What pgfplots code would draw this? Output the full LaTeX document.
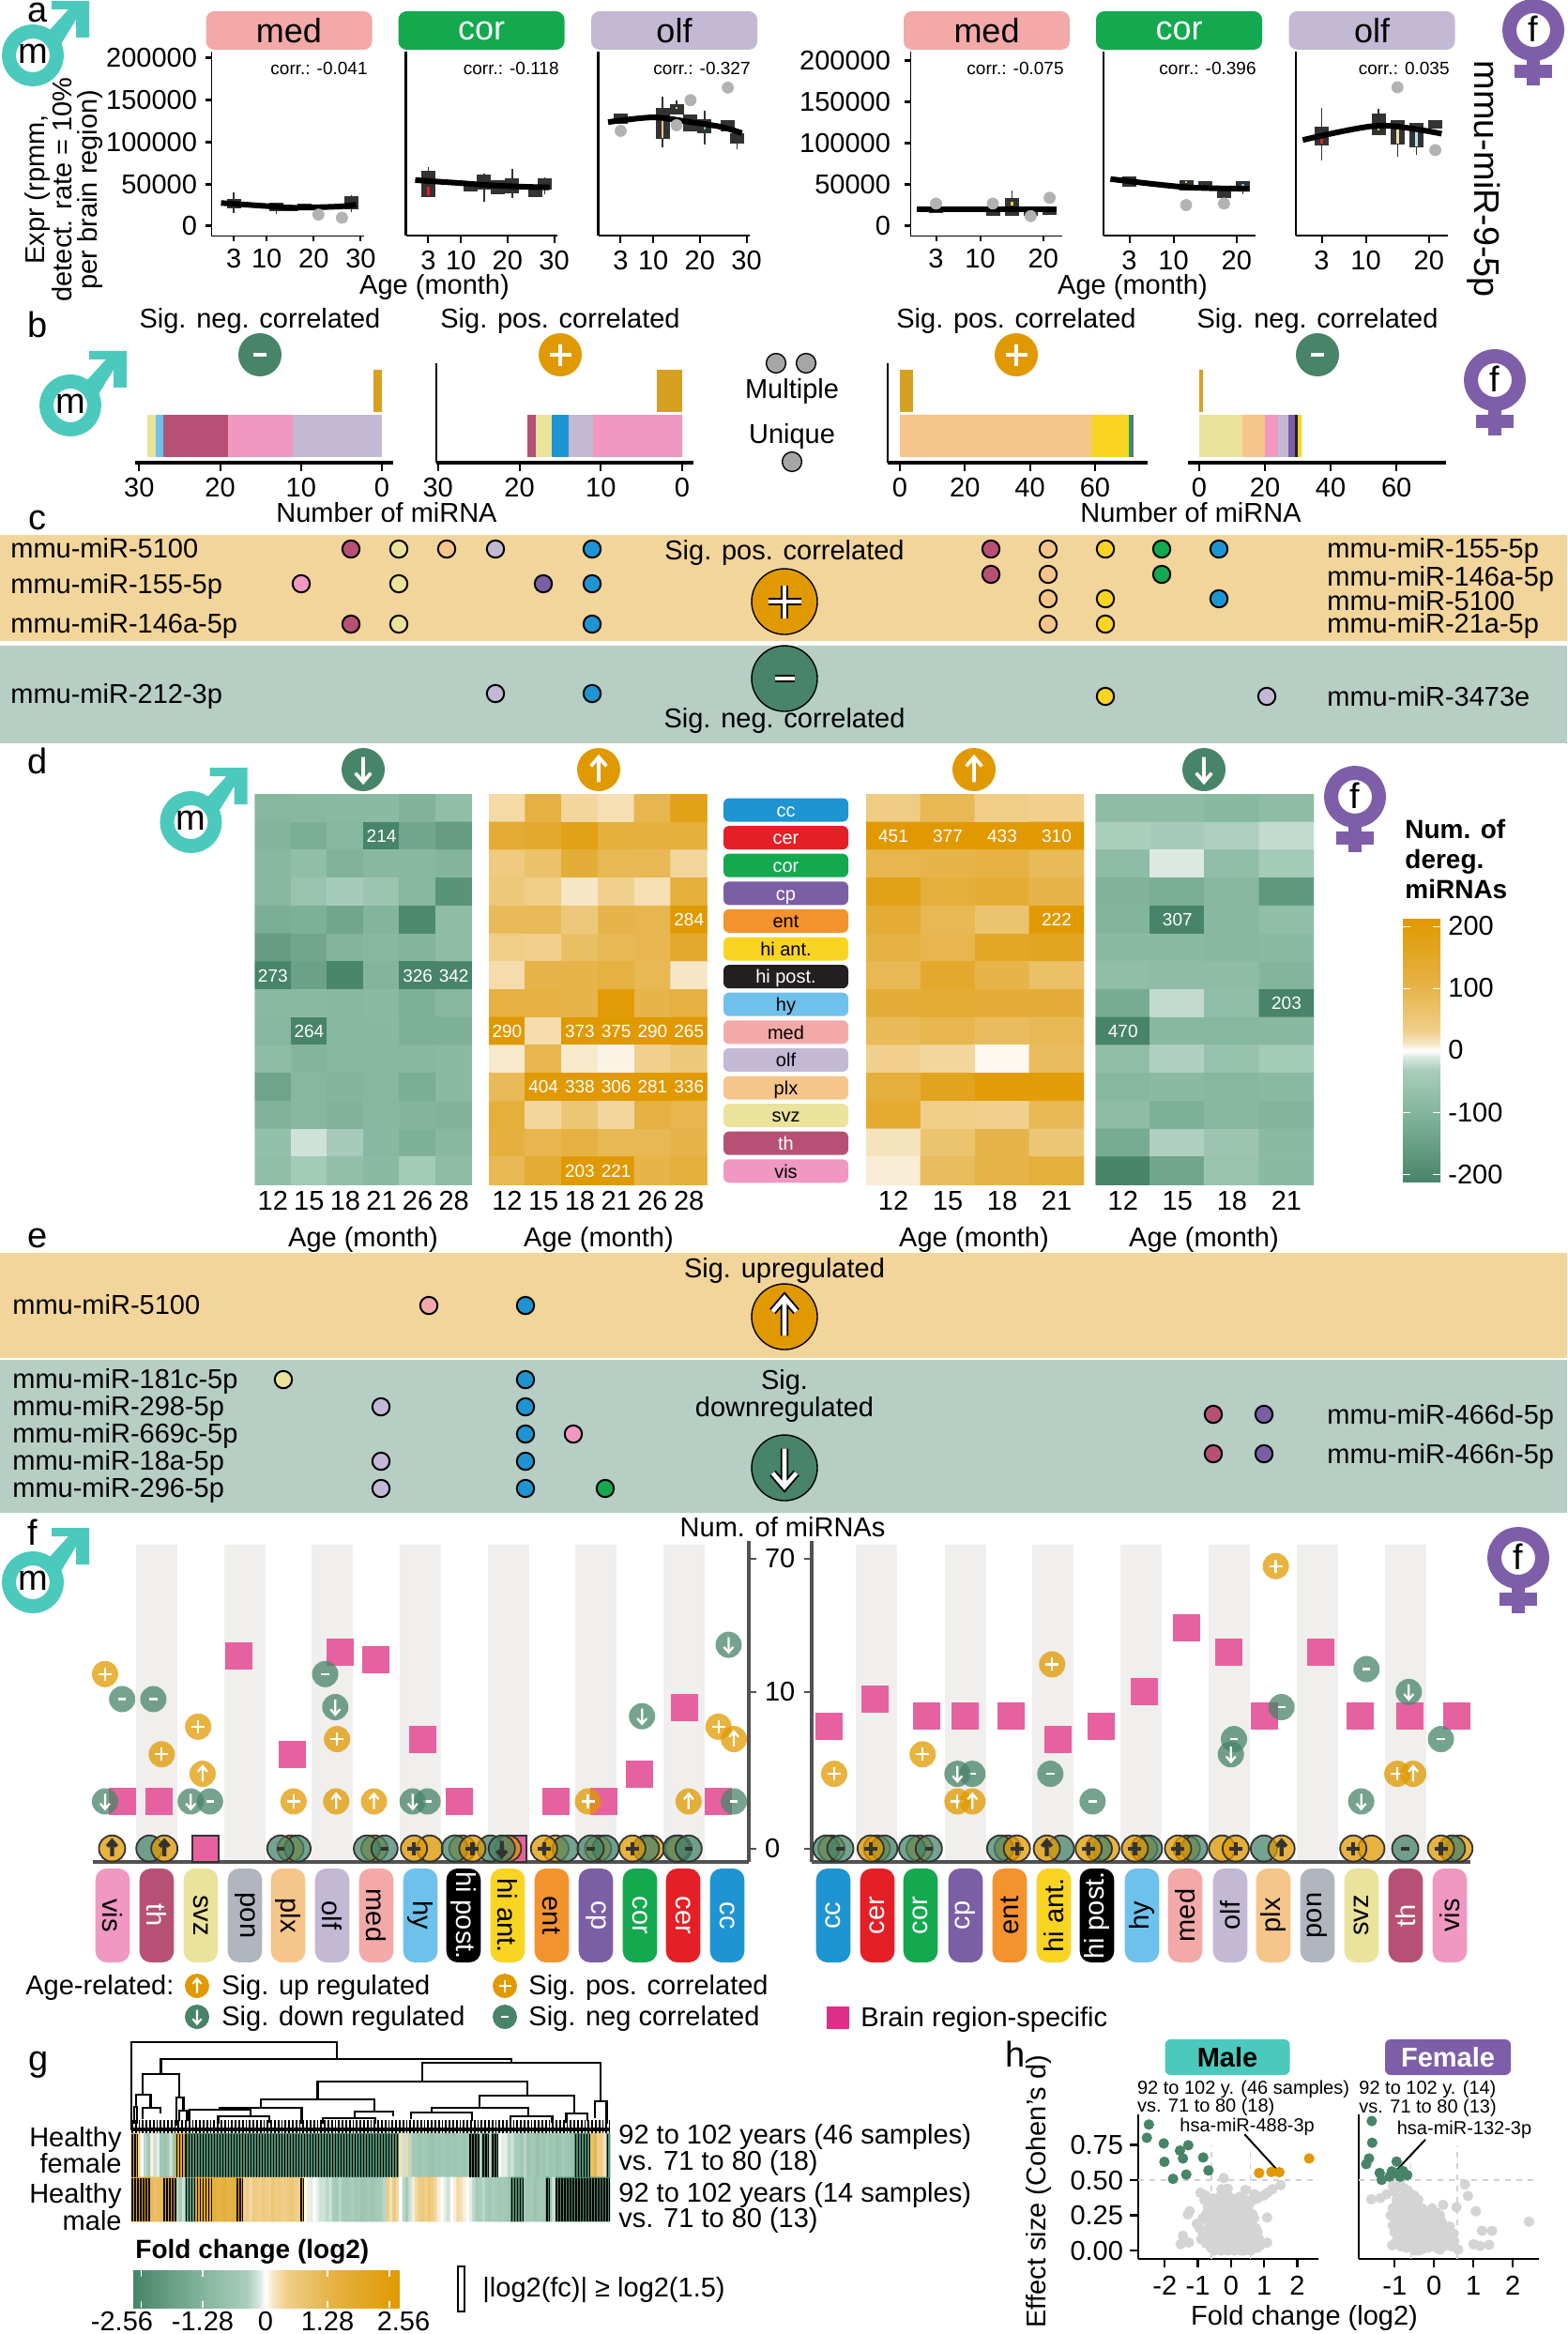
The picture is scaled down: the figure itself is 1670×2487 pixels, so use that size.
\documentclass[border=0pt]{standalone}
\usepackage{fontspec}
\setmainfont{Liberation Sans}
\usepackage{etoolbox}
\usepackage{pgfplots}
\pgfplotsset{compat=1.18}

% brain region colours
\definecolor{cc}{HTML}{1F94D2}\definecolor{cer}{HTML}{E41F26}\definecolor{cor}{HTML}{14A84F}
\definecolor{cp}{HTML}{7B5FA5}\definecolor{ent}{HTML}{F4922E}\definecolor{hia}{HTML}{FAD422}
\definecolor{hip}{HTML}{231F20}\definecolor{hy}{HTML}{6EC1EA}\definecolor{med}{HTML}{F2A9A8}
\definecolor{olf}{HTML}{C3B9D5}\definecolor{plx}{HTML}{F6C589}\definecolor{pon}{HTML}{B1B5BE}
\definecolor{svz}{HTML}{EBE29C}\definecolor{th}{HTML}{B65175}\definecolor{vis}{HTML}{F098C1}
\definecolor{mcol}{HTML}{4CC9BD}\definecolor{fcol}{HTML}{7E5EA8}
\definecolor{gold}{HTML}{E09900}\definecolor{grn}{HTML}{478469}
\definecolor{lgold}{HTML}{F2D59A}\definecolor{lgrn}{HTML}{B6CEC3}
\definecolor{pinks}{HTML}{E6619F}\definecolor{pinkl}{HTML}{DE2E87}
\definecolor{multi}{HTML}{D6A021}\definecolor{band}{HTML}{F0EFED}\definecolor{dk}{HTML}{333333}
\definecolor{c1}{HTML}{83B59D}\definecolor{c2}{HTML}{AACDBC}\definecolor{c3}{HTML}{DCE9E3}
\definecolor{c4}{HTML}{F7E9CC}\definecolor{c5}{HTML}{F1D08D}\definecolor{c6}{HTML}{E6B44A}

\def\fA{\fontsize{14.5}{17}\selectfont}
\def\fB{\fontsize{9.5}{11}\selectfont}
\def\fC{\fontsize{10}{12}\selectfont}
\def\fL{\fontsize{19}{21}\selectfont}
\def\fS{\fontsize{18}{20}\selectfont}
\def\fN{\fontsize{10}{11.5}\selectfont}

% circle marks with a glyph
\def\pathP{\pgfpathmoveto{\pgfqpoint{-.5\pgfplotmarksize}{0pt}}\pgfpathlineto{\pgfqpoint{.5\pgfplotmarksize}{0pt}}\pgfpathmoveto{\pgfqpoint{0pt}{-.5\pgfplotmarksize}}\pgfpathlineto{\pgfqpoint{0pt}{.5\pgfplotmarksize}}}
\def\pathM{\pgfpathmoveto{\pgfqpoint{-.3\pgfplotmarksize}{0pt}}\pgfpathlineto{\pgfqpoint{.3\pgfplotmarksize}{0pt}}}
\def\pathU{\pgfpathmoveto{\pgfqpoint{0pt}{-.58\pgfplotmarksize}}\pgfpathlineto{\pgfqpoint{0pt}{.58\pgfplotmarksize}}\pgfpathmoveto{\pgfqpoint{-.36\pgfplotmarksize}{.16\pgfplotmarksize}}\pgfpathlineto{\pgfqpoint{0pt}{.58\pgfplotmarksize}}\pgfpathlineto{\pgfqpoint{.36\pgfplotmarksize}{.16\pgfplotmarksize}}}
\def\pathD{\pgfpathmoveto{\pgfqpoint{0pt}{.58\pgfplotmarksize}}\pgfpathlineto{\pgfqpoint{0pt}{-.58\pgfplotmarksize}}\pgfpathmoveto{\pgfqpoint{-.36\pgfplotmarksize}{-.16\pgfplotmarksize}}\pgfpathlineto{\pgfqpoint{0pt}{-.58\pgfplotmarksize}}\pgfpathlineto{\pgfqpoint{.36\pgfplotmarksize}{-.16\pgfplotmarksize}}}
\newcommand\defmk[2]{%
 \pgfdeclareplotmark{#1w}{\pgfpathcircle{\pgfpointorigin}{\pgfplotmarksize}\pgfusepathqfill
  \begin{pgfscope}\pgfsetstrokecolor{white}\pgfsetlinewidth{0.16\pgfplotmarksize}#2\pgfusepathqstroke\end{pgfscope}}%
 \pgfdeclareplotmark{#1d}{\pgfpathcircle{\pgfpointorigin}{\pgfplotmarksize}\pgfusepathqfillstroke
  \begin{pgfscope}\pgfsetlinewidth{0.3\pgfplotmarksize}#2\pgfusepathqstroke\end{pgfscope}}%
 \pgfdeclareplotmark{#1o}{\pgfpathcircle{\pgfpointorigin}{\pgfplotmarksize}\pgfusepathqfillstroke
  \begin{pgfscope}\pgfsetstrokecolor{black}\pgfsetlinewidth{0.24\pgfplotmarksize}#2\pgfusepathqstroke
  \pgfsetstrokecolor{white}\pgfsetlinewidth{0.13\pgfplotmarksize}#2\pgfusepathqstroke\end{pgfscope}}}
\defmk{P}{\pathP}\defmk{M}{\pathM}\defmk{U}{\pathU}\defmk{D}{\pathD}

\pgfplotsset{
 colormap={dereg}{rgb255(0pt)=(71,132,105);rgb255(100pt)=(131,181,157);rgb255(170pt)=(170,205,188);rgb255(190pt)=(220,233,227);rgb255(200pt)=(255,255,255);rgb255(210pt)=(247,233,204);rgb255(230pt)=(241,208,141);rgb255(300pt)=(230,180,74);rgb255(400pt)=(224,153,0)},
 pan/.style n args={4}{at={(#1*0.5pt,-#2*0.5pt)},anchor=north west,width=#3*0.5pt,height=#4*0.5pt,scale only axis},
 every axis/.append style={/pgf/number format/assume math mode=true,/pgf/number format/fixed,/pgf/number format/1000 sep={},scaled ticks=false},
 every tick label/.append style={font=\fA},
 aax/.style={axis x line*=bottom,axis y line*=left,xtick={3,10,20,30},xmin=-1.8,xmax=30.7,ymin=-11148,ymax=207000,
   tick align=outside,major tick length=4pt,tick style={black,line width=1pt},ytick=\empty,
   xticklabel style={yshift=-.5pt},yticklabel style={xshift=-1pt},axis line style={black,line width=1.3pt}},
 afx/.style={aax,xtick={3,10,20},xmin=-1.09,xmax=23,ymin=-11380,ymax=210800,yticklabel style={xshift=-1pt}},
 thin ax/.style={axis line style={black,line width=.4pt}},
 yt/.style={ytick={0,50000,100000,150000,200000},yticklabels={0,50000,100000,150000,200000},ytick style={black,line width=1.5pt},major tick length=3pt},
 bax/.style={xbar stacked,bar width=22.5pt,axis x line*=bottom,axis y line*=left,ytick=\empty,ymin=-.58,ymax=1.6,
   tick align=outside,major tick length=4.5pt,tick style={black,line width=1pt},
   x axis line style={black,line width=1.8pt},y axis line style={black,line width=1.1pt}},
 noy/.style={y axis line style={draw=none}},
 hax/.style={enlargelimits=false,y dir=reverse,ymin=-.5,ymax=13.5,ytick=\empty,axis line style={draw=none},major tick length=0pt,
   colormap name=dereg,point meta min=-200,point meta max=200},
 fax/.style={xmin=-.446,xmax=14.48,ymin=-.179,ymax=91,y coord trafo/.code={\pgfmathparse{ln(##1+1)}},
   xtick=\empty,ytick={0,9,70},tick align=outside,major tick length=4pt,clip=false,
   tick style={color=dk!85,line width=1.2pt},axis line style={color=dk!85,line width=1.6pt},axis x line*=bottom},
 hhx/.style={axis x line*=bottom,axis y line*=left,ymin=-.06,ymax=.967,clip=false,tick align=outside,major tick length=4.5pt,
   tick style={black,line width=1.2pt},axis line style={black,line width=1.4pt},xticklabel style={yshift=-1pt}},
}

% values in rows, drawn as a matrix
\newcommand\hmplot[3]{\gdef\hmc{}\foreach \v [count=\i from 0] in {#3}{\pgfmathtruncatemacro\cx{mod(\i,#1)}\pgfmathtruncatemacro\cy{floor(\i/#1)}\xappto\hmc{(\cx,\cy)[\v] }}%
 \edef\hmtmp{\noexpand\addplot[matrix plot*,mesh/cols=#1,point meta=explicit,#2] coordinates {\hmc};}\hmtmp}
\newcommand\cellnum[1]{\addplot[draw=none,mark=none,point meta=explicit symbolic,nodes near coords,nodes near coords style={anchor=center,white,font=\fB,inner sep=0pt}] coordinates {#1};}
% box: x, whisker low, q1, q3, whisker high
\newcommand\bx[5]{\addplot[dk,line width=.7pt] coordinates {(#1,#2)(#1,#5)};\addplot[dk,line width=7.5pt] coordinates {(#1,#3)(#1,#4)};}
\newcommand\slt[4]{\addplot[#4,line width=1.3pt] coordinates {(#1,#2)(#1,#3)};}
\newcommand\gp[1]{\addplot[only marks,mark=*,mark size=3pt,mark options={fill=black!30,draw=black!30}] coordinates {#1};}
\newcommand\cv[1]{\addplot[black,line width=3pt,smooth] coordinates {#1};}
% stacked bars add up by position in the list: first Multiple, then Unique
\newcommand\stm[2]{\addplot[fill=#1,draw=none] coordinates {(#2,1)(0,0)};}
\newcommand\stk[2]{\addplot[fill=#1,draw=none] coordinates {(0,1)(#2,0)};}
\newcommand\mk[4]{\addplot[only marks,mark=#1,mark size=#2,mark options={fill=#3,draw=black,line width=.7pt}] coordinates {#4};}
\newcommand\dt[2]{\addplot[only marks,mark=*,mark size=4.6pt,mark options={fill=#1,draw=black,line width=1pt}] coordinates {#2};}
\newcommand\fm[3]{\addplot[only marks,mark=#1w,mark size=7pt,mark options={fill=#2,fill opacity=.75}] coordinates {#3};}
\newcommand\fs[1]{\addplot[only marks,mark=square*,mark size=7pt,mark options={fill=pinks,draw=pinks}] coordinates {#1};}
\newcommand\fz[3]{\addplot[only marks,mark=#1,mark size=7pt,mark options={fill=#2,fill opacity=.75,draw=dk,line width=.9pt}] coordinates {#3};}
\newcommand\strp[2]{\addplot[black,line width=23pt,dash pattern=on .75pt off .75pt] coordinates {(#1,#2)};}

\newcommand\tx[5]{\node[anchor=#3,inner sep=0pt,font=#4,text height=.72em,text depth=0pt,yshift=-1.1pt] at (#1,#2) {#5};}
\newcommand\malesym[2]{\begin{scope}[shift={(#1,#2)}]
 \draw[mcol,line width=7.5pt] (0,0) circle[radius=12.75pt];
 \fill[mcol] (20,-58)--(60,-58)--(60,-19)--(46,-19)--(46,-38)--(30,-12)--(17,-26)--(38,-49)--(20,-49)--cycle;
 \node[font=\fL] at (0,-2) {m};\end{scope}}
\newcommand\femsym[2]{\begin{scope}[shift={(#1,#2)}]
 \draw[fcol,line width=7.5pt] (0,0) circle[radius=12.75pt];
 \fill[fcol] (-7,30) rectangle (7,59);\fill[fcol] (-20,37) rectangle (20,51);
 \node[font=\fL] at (0,-1) {f};\end{scope}}

\begin{document}
\begin{tikzpicture}[x=0.5pt,y=-0.5pt]
\path[use as bounding box] (0,0) rectangle (1670,2487);

% bands of c and e, grey stripes of f
\fill[lgold] (0,570) rectangle (1670,683);
\fill[lgrn] (0,688) rectangle (1670,792);
\fill[lgold] (0,1335) rectangle (1670,1447);
\fill[lgrn] (0,1449) rectangle (1670,1612);
\foreach \x in {167,261,354,448,541.5,635,729,934,1029,1122,1216,1310,1404,1497.5}
  {\fill[band] (\x-22,1646) rectangle (\x+22,1984);}

% a ------------------------------------------------------------
\foreach \x/\n/\c/\t in {308/med/med/black,513/cor/cor/white,718.5/olf/olf/black,1051.5/med/med/black,1256.5/cor/cor/white,1462/olf/olf/black}
  {\node[fill=\c,text=\t,rounded corners=4.5pt,minimum width=88.5pt,minimum height=20.5pt,inner sep=0pt,font=\fS] at (\x,32.5) {\n};}

\begin{axis}[pan={225}{55}{163}{196},aax,yt,thin ax]
\bx{3}{15600}{21000}{32000}{39800}\bx{12}{14800}{17500}{27500}{28000}\bx{15}{17500}{17500}{25000}{25000}\bx{18}{18600}{18600}{26800}{26800}\bx{28}{16400}{20400}{35300}{37200}
\gp{(21,13700)(26,10000)}
\cv{(.3,27500)(10,23800)(15,22000)(20,22300)(26,23500)(29,25500)}
\end{axis}
\begin{axis}[pan={432.5}{55}{161.5}{196},aax]
\bx{3}{34900}{34900}{65800}{70600}\bx{12}{40900}{40900}{52800}{52800}\bx{15}{29400}{43500}{61000}{62100}\bx{18}{37900}{37900}{54600}{54600}\bx{21}{33500}{38700}{56500}{67600}\bx{26}{34900}{34900}{49100}{49100}\bx{28}{37900}{43500}{56500}{58400}
\slt{3}{37200}{47200}{cer}
\cv{(.2,54600)(10,51000)(15,49000)(22,47000)(29,46000)}
\end{axis}
\begin{axis}[pan={637.6}{55}{161.4}{196},aax]
\bx{3}{121500}{121500}{133800}{133800}\bx{12}{93700}{103000}{140100}{153100}\bx{15}{132700}{132700}{145000}{149400}\bx{18}{112300}{112300}{132700}{132700}\bx{21}{96600}{110400}{127100}{136400}\bx{26}{112300}{112300}{126000}{126000}\bx{28}{91000}{97400}{110400}{112300}
\slt{12}{104800}{127100}{plx}\slt{15}{139000}{141200}{plx}\slt{21}{114100}{117800}{hy}
\gp{(3,113000)(15,119700)(18,149400)(26,164300)}
\cv{(.3,123400)(10,129000)(18,123400)(24.5,117800)(29,110400)}
\end{axis}
\begin{axis}[pan={970}{55}{162}{196},afx,yt,thin ax,yticklabel style={xshift=-2pt}]
\bx{3}{15900}{15900}{23500}{23500}\bx{12}{12100}{12100}{19000}{19000}\bx{15}{12100}{12100}{34200}{42500}\bx{18}{12100}{12100}{21600}{21600}\bx{21}{14000}{14000}{22800}{22800}
\slt{15}{25400}{29200}{hia}
\gp{(3,27300)(12,27300)(18,12100)(21,34200)}
\cv{(0,20100)(10,20100)(22,20100)}
\end{axis}
\begin{axis}[pan={1176}{55}{162}{196},afx]
\bx{3}{47000}{47000}{59600}{59600}\bx{12}{42500}{42500}{55800}{55800}\bx{15}{42500}{42500}{53900}{53900}\bx{18}{34200}{34200}{44400}{44400}\bx{21}{38000}{41700}{54600}{54600}
\slt{12}{52000}{53900}{plx}\slt{21}{48200}{50900}{hy}
\gp{(12,25400)(18,27300)}
\cv{(0,56900)(12,47000)(22,45200)}
\end{axis}
\begin{axis}[pan={1381}{55}{162}{196},afx]
\bx{3}{79700}{97500}{120300}{143100}\bx{12}{110100}{110100}{135500}{141200}\bx{15}{84200}{98700}{127900}{127900}\bx{18}{86100}{95600}{125200}{125200}\bx{21}{117600}{117600}{127900}{127900}
\slt{3}{99400}{108200}{cer}\slt{12}{115400}{119200}{plx}\slt{15}{99400}{118400}{svz}\slt{18}{96400}{114600}{hy!50!white}
\gp{(15,167700)(21,91800)}
\cv{(0,104000)(12,121400)(22,111600)}
\end{axis}
\foreach \x/\v in {392/-0.041,596/-0.118,800/-0.327,1134/-0.075,1339/-0.396}
  {\tx{\x}{70}{east}{\fB}{corr.: \v}}
\tx{1545}{70}{east}{\fB}{corr.: 0.035}
\node[rotate=90,align=center,font=\fontsize{14.5}{13.5}\selectfont,inner sep=0pt] at (68,202) {Expr (rpmm,\\detect. rate = 10\%\\per brain region)};
\node[rotate=-90,font=\fontsize{18.9}{21}\selectfont,inner sep=0pt] at (1581,191) {mmu-miR-9-5p};
\tx{463}{304}{center}{\fA}{Age (month)}
\tx{1207}{304}{center}{\fA}{Age (month)}

% b ------------------------------------------------------------
\begin{axis}[pan={144}{387}{275}{106},bax,noy,x dir=reverse,xmin=-1.39,xmax=30.5,xtick={0,10,20,30}]
\stm{multi}{1}
\stk{olf}{11}\stk{vis}{8}\stk{th}{8}\stk{hy}{1}\stk{svz}{1}
\end{axis}
\begin{axis}[pan={465}{387}{274}{106},bax,x dir=reverse,xmin=-1.38,xmax=30.2,xtick={0,10,20,30}]
\stm{multi}{3.1}
\stk{vis}{11}\stk{olf}{3}\stk{cc}{2}\stk{svz}{2}\stk{th}{1}
\end{axis}
\begin{axis}[pan={946}{387}{277}{106},bax,xmin=-3.75,xmax=76.2,xtick={0,20,40,60}]
\stm{multi}{4}
\stk{plx}{59}\stk{hia}{11.4}\stk{cor}{1}\stk{cp}{.5}
\end{axis}
\begin{axis}[pan={1266}{387}{275}{106},bax,noy,xmin=-3.43,xmax=75.1,xtick={0,20,40,60}]
\stm{multi}{1}
\stk{svz}{13}\stk{plx}{7}\stk{vis}{4}\stk{olf}{3}\stk{cp}{2}\stk{hip}{1}\stk{hia}{1}
\end{axis}
\tx{277}{340}{center}{\fA}{Sig. neg. correlated}
\tx{597}{340}{center}{\fA}{Sig. pos. correlated}
\tx{1083}{340}{center}{\fA}{Sig. pos. correlated}
\tx{1404}{340}{center}{\fA}{Sig. neg. correlated}
\tx{844}{415}{center}{\fA}{Multiple}
\tx{844}{463}{center}{\fA}{Unique}
\tx{412}{547}{center}{\fA}{Number of miRNA}
\tx{1269}{547}{center}{\fA}{Number of miRNA}

% c labels ------------------------------------------------------
\tx{11}{585}{west}{\fA}{mmu-miR-5100}
\tx{11}{623}{west}{\fA}{mmu-miR-155-5p}
\tx{11}{665}{west}{\fA}{mmu-miR-146a-5p}
\tx{11}{740}{west}{\fA}{mmu-miR-212-3p}
\tx{1414}{585}{west}{\fA}{mmu-miR-155-5p}
\tx{1414}{615}{west}{\fA}{mmu-miR-146a-5p}
\tx{1414}{641}{west}{\fA}{mmu-miR-5100}
\tx{1414}{665}{west}{\fA}{mmu-miR-21a-5p}
\tx{1414}{743}{west}{\fA}{mmu-miR-3473e}
\tx{836}{587}{center}{\fA}{Sig. pos. correlated}
\tx{836}{766}{center}{\fA}{Sig. neg. correlated}

% d ------------------------------------------------------------
\begin{axis}[pan={271.5}{846.4}{231.5}{416},hax,xmin=-.5,xmax=5.5,xtick={0,...,5},xticklabels={12,15,18,21,26,28}]
\hmplot{6}{}{-95,-90,-85,-85,-105,-75,
-100,-115,-95,-214,-130,-150,
-90,-75,-105,-90,-90,-100,
-90,-60,-35,-55,-95,-170,
-115,-110,-130,-100,-190,-80,
-150,-130,-100,-90,-100,-80,
-273,-140,-195,-100,-326,-342,
-85,-85,-90,-85,-110,-95,
-95,-264,-95,-90,-110,-110,
-80,-100,-90,-90,-95,-85,
-135,-95,-100,-95,-115,-85,
-105,-95,-105,-95,-100,-105,
-70,-15,-35,-90,-110,-90,
-75,-40,-70,-85,-40,-80}
\cellnum{(3,1)[214](0,6)[273](4,6)[326](5,6)[342](1,8)[264]}
\end{axis}
\begin{axis}[pan={521}{846.4}{232.6}{416},hax,xmin=-.5,xmax=5.5,xtick={0,...,5},xticklabels={12,15,18,21,26,28}]
\hmplot{6}{}{22,110,25,18,95,170,
130,140,170,120,115,120,
45,65,125,90,90,25,
50,35,12,30,18,120,
85,85,50,100,95,284,
35,30,75,90,95,140,
20,100,100,110,90,12,
110,110,100,190,100,110,
290,20,373,375,290,265,
10,95,10,5,30,50,
85,404,338,306,281,336,
120,25,55,25,110,95,
115,95,110,90,90,100,
90,130,203,221,100,120}
\cellnum{(5,4)[284](0,8)[290](2,8)[373](3,8)[375](4,8)[290](5,8)[265](1,10)[404](2,10)[338](3,10)[306](4,10)[281](5,10)[336](2,13)[203](3,13)[221]}
\end{axis}
\begin{axis}[pan={923}{846.4}{232}{416},hax,xmin=-.5,xmax=3.5,xtick={0,...,3},xticklabels={12,15,18,21}]
\hmplot{4}{}{40,90,35,30,
451,377,433,310,
95,100,110,85,
170,120,130,100,
130,90,60,222,
110,95,150,155,
90,140,100,70,
125,130,125,125,
85,95,80,90,
30,25,3,80,
120,160,190,190,
135,35,30,90,
15,60,100,55,
8,80,100,120}
\cellnum{(0,1)[451](1,1)[377](2,1)[433](3,1)[310](3,4)[222]}
\end{axis}
\begin{axis}[pan={1167.7}{846.4}{232.3}{416},hax,xmin=-.5,xmax=3.5,xtick={0,...,3},xticklabels={12,15,18,21}]
\hmplot{4}{}{-80,-80,-90,-80,
-30,-35,-28,-20,
-80,-10,-75,-40,
-105,-115,-90,-160,
-100,-307,-90,-75,
-85,-85,-90,-85,
-75,-80,-80,-100,
-120,-20,-75,-203,
-470,-90,-95,-90,
-75,-28,-65,-40,
-95,-85,-95,-85,
-80,-110,-90,-100,
-120,-28,-55,-85,
-200,-130,-60,-85}
\cellnum{(1,4)[307](3,7)[203](0,8)[470]}
\end{axis}
\foreach \x in {387,638,1038,1283} {\tx{\x}{1319}{center}{\fA}{Age (month)}}
\foreach \n/\c/\t [count=\i from 0] in {cc/cc/white,cer/cer/white,cor/cor/white,cp/cp/white,ent/ent/black,hi ant./hia/black,hi post./hip/white,hy/hy/black,med/med/black,olf/olf/black,plx/plx/black,svz/svz/black,th/th/white,vis/vis/black}
  {\node[fill=\c,text=\t,rounded corners=3pt,minimum width=66.5pt,minimum height=12.5pt,inner sep=0pt,font=\fC,text height=.72em,text depth=0pt] at (837.5,863+\i*29.6) {\n};}
% colour bar of d
\shade[top color=gold,bottom color=c6] (1495,979) rectangle (1535,1053.5);
\shade[top color=c6,bottom color=c5] (1495,1053) rectangle (1535,1099.5);
\shade[top color=c5,bottom color=c4] (1495,1099) rectangle (1535,1113.5);
\shade[top color=c4,bottom color=white] (1495,1113) rectangle (1535,1119.7);
\shade[top color=white,bottom color=c3] (1495,1119.5) rectangle (1535,1126);
\shade[top color=c3,bottom color=c2] (1495,1125.7) rectangle (1535,1140);
\shade[top color=c2,bottom color=c1] (1495,1139.7) rectangle (1535,1186);
\shade[top color=c1,bottom color=grn] (1495,1185.6) rectangle (1535,1259.5);
\foreach \y/\l in {987.5/200,1053.5/100,1119.5/0,1185.6/-100,1251.6/-200}{
  \draw[white,line width=.6pt] (1495,\y)--(1503,\y) (1527,\y)--(1535,\y);
  \tx{1543}{\y}{west}{\fA}{\l}}
\tx{1497}{884}{west}{\bfseries\fontsize{14}{16}\selectfont}{Num. of}
\tx{1497}{916}{west}{\bfseries\fontsize{14}{16}\selectfont}{dereg.}
\tx{1497}{948}{west}{\bfseries\fontsize{14}{16}\selectfont}{miRNAs}

% e labels ------------------------------------------------------
\tx{13}{1391}{west}{\fA}{mmu-miR-5100}
\foreach \y/\l in {1470/mmu-miR-181c-5p,1499/mmu-miR-298-5p,1528/mmu-miR-669c-5p,1557/mmu-miR-18a-5p,1586/mmu-miR-296-5p}
  {\tx{13}{\y}{west}{\fA}{\l}}
\tx{1414}{1508}{west}{\fA}{mmu-miR-466d-5p}
\tx{1414}{1550}{west}{\fA}{mmu-miR-466n-5p}
\tx{836}{1352}{center}{\fA}{Sig. upregulated}
\tx{836}{1471}{center}{\fA}{Sig.}
\tx{836}{1500}{center}{\fA}{downregulated}

% overlay in picture pixels: dots of b, c, e and the round signs
\begin{axis}[at={(0pt,0pt)},anchor=north west,width=835pt,height=1243.5pt,scale only axis,xmin=0,xmax=1670,ymin=0,ymax=2487,y dir=reverse,hide axis,clip=false]
\mk{*}{5.2pt}{black!35}{(827,387)(859,387)(844,492)}
\mk{Pw}{11.5pt}{gold}{(597,378)(1083,378)}
\mk{Mw}{11.5pt}{grn}{(277,378)(1404,378)}
\mk{Uw}{11.5pt}{gold}{(638,820)(1038,820)}
\mk{Dw}{11.5pt}{grn}{(387,820)(1283,820)}
\mk{Po}{17.5pt}{gold}{(836,641)}
\mk{Mo}{17.5pt}{grn}{(836,723)}
\mk{Uo}{17.5pt}{gold}{(836,1403)}
\mk{Do}{17.5pt}{grn}{(836,1564)}
\dt{th}{(374,585)(374,665)(1056,585)(1056,612)(1293,1507)(1293,1549)}
\dt{svz}{(425,585)(425,622)(425,665)(302,1470)}
\dt{plx}{(476,585)(1117,585)(1117,612)(1117,638)(1117,665)}
\dt{olf}{(528,585)(528,739)(1350,742)(406,1499)(406,1557)(406,1586)}
\dt{cc}{(631,585)(631,622)(631,665)(631,739)(1299,585)(1299,638)(560,1391)(560,1470)(560,1499)(560,1528)(560,1557)(560,1586)}
\dt{vis}{(321,622)(611,1528)}
\dt{cp}{(579,622)(1347,1507)(1347,1549)}
\dt{hia}{(1178,585)(1178,638)(1178,665)(1178,742)}
\dt{cor}{(1238,585)(1238,612)(645,1586)}
\dt{med}{(457,1391)}
\mk{Uw}{6.5pt}{gold}{(210,2116)}
\mk{Pw}{6.5pt}{gold}{(538,2116)}
\mk{Dw}{6.5pt}{grn}{(210,2149)}
\mk{Mw}{6.5pt}{grn}{(538,2149)}
\addplot[only marks,mark=square*,mark size=5.75pt,mark options={fill=pinkl,draw=pinkl}] coordinates {(893,2150)};
\end{axis}

% f ------------------------------------------------------------
\begin{axis}[pan={99}{1642}{699}{342},fax,axis y line*=right,yticklabels={0,10,70},yticklabel style={xshift=1pt}]
\fs{(.23,1)(1.06,1)(2.88,16)(4.10,3)(5.18,17)(5.98,15)(7.05,4)(7.88,1)(10.09,1)(11.18,1)(11.98,2)(13.01,7)(13.79,1)}
\fm{P}{gold}{(-.17,12)(1.12,3)(1.95,5)(4.12,1)(5.11,4)(10.82,1)(13.79,5)}
\fm{U}{gold}{(2.05,2)(5.09,1)(5.95,1)(13.11,1)(14.14,4)}
\fm{M}{grn}{(.22,8)(.93,8)(2.22,1)(4.84,12)(7.17,1)(14.14,1)}
\fm{D}{grn}{(-.17,1)(1.78,1)(5.07,7)(6.83,1)(12.05,6)(14.02,19)}
\addplot[only marks,mark=square*,mark size=7pt,mark options={fill=pinks,draw=dk,line width=1pt}] coordinates {(2.11,0)(9.13,0)};
\fz{*}{gold}{(4.05,0)(5.96,0)(7.22,0)(7.96,0)(9,0)(10.08,0)(11.05,0)(12.25,0)(12.88,0)}
\fz{*}{grn}{(.84,0)(4.21,0)(5.79,0)(7.79,0)(8.6,0)(10.31,0)(11.22,0)(12.14,0)(12.83,0)}
\fz{Ud}{gold}{(-.01,0)(1.18,0)}
\fz{Pd}{gold}{(6.86,0)(8.19,0)(9.82,0)(11.83,0)}
\fz{Md}{grn}{(3.82,0)(6.19,0)(10.88,0)(13.11,0)}
\fz{Dd}{grn}{(8.86,0)}
\end{axis}
\begin{axis}[pan={865}{1642}{702}{342},fax,xmin=-.48,axis y line*=left,yticklabels={}]
\fs{(-.09,5)(.96,8)(2.12,6)(3.01,6)(4.05,6)(5.11,4)(6.09,5)(7.08,9)(8.04,24.8)(9,17)(9.79,6)(11.08,17)(11.97,6)(13.1,6)(14.17,6)}
\fm{P}{gold}{(.03,2)(2.04,3)(2.83,1)(4.98,14)(10.06,62.6)(12.82,2)}
\fm{U}{gold}{(3.17,1)(13.18,2)}
\fm{M}{grn}{(3.17,2)(4.94,2)(5.9,1)(9.11,4)(10.19,7)(12.12,13)(13.81,4)}
\fm{D}{grn}{(2.83,2)(9.04,3)(12,1)(13.08,9)}
\fz{*}{gold}{(-.03,0)(1,0)(1.97,0)(3.97,0)(6.21,0)(7.07,0)(8.04,0)(8.84,0)(12.23,0)(14.23,0)}
\fz{*}{grn}{(-.15,0)(1.17,0)(1.8,0)(3.8,0)(5.18,0)(6.04,0)(7.18,0)(8.21,0)(9.79,0)(14.06,0)}
\fz{Md}{grn}{(.17,0)(2.18,0)(13,0)}
\fz{Pd}{gold}{(.86,0)(4.18,0)(5.81,0)(6.86,0)(7.84,0)(9.15,0)(11.82,0)(13.81,0)}
\fz{Ud}{gold}{(4.86,0)(10.19,0)}
\end{axis}
\foreach \x/\n/\c/\t in {120/vis/vis/black,167/th/th/white,214/svz/svz/black,261/pon/pon/black,307/plx/plx/black,354/olf/olf/black,401/med/med/black,448/hy/hy/black,494/hi post./black/white,541/hi ant./hia/black,588/ent/ent/black,635/cp/cp/white,682/cor/cor/white,728/cer/cer/white,775/cc/cc/white}
  {\node[rotate=-90,fill=\c,text=\t,rounded corners=6pt,minimum width=50pt,minimum height=18.3pt,inner sep=0pt,font=\fontsize{14.5}{16}\selectfont] at (\x,2041) {\n};}
\foreach \x/\n/\c/\t in {888/cc/cc/white,935/cer/cer/white,981/cor/cor/white,1029/cp/cp/white,1076/ent/ent/black,1123/hi ant./hia/black,1169/hi post./black/white,1217/hy/hy/black,1263/med/med/black,1311/olf/olf/black,1357/plx/plx/black,1404/pon/pon/black,1451/svz/svz/black,1498/th/th/white,1545/vis/vis/black}
  {\node[rotate=90,fill=\c,text=\t,rounded corners=6pt,minimum width=50pt,minimum height=18.3pt,inner sep=0pt,font=\fontsize{14.5}{16}\selectfont] at (\x,2041) {\n};}
\tx{834}{1628}{center}{\fA}{Num. of miRNAs}
\tx{27}{2116}{west}{\fA}{Age-related:}
\tx{236}{2116}{west}{\fA}{Sig. up regulated}
\tx{563}{2116}{west}{\fA}{Sig. pos. correlated}
\tx{236}{2149}{west}{\fA}{Sig. down regulated}
\tx{563}{2149}{west}{\fA}{Sig. neg correlated}
\tx{917}{2150}{west}{\fA}{Brain region-specific}

% g ------------------------------------------------------------
\begin{axis}[pan={140}{2175}{510}{95},xmin=205,xmax=950,ymin=45,ymax=330,y dir=reverse,hide axis,clip=false]
\addplot[black,line width=1.1pt,unbounded coords=jump] coordinates {
(205,330)(205,47)(525,47)(525,102)(nan,nan)
(251,150)(251,102)(797,102)(797,115)(nan,nan)
(223,215)(223,150)(280,150)(280,225)(nan,nan)
(212,255)(212,215)(235,215)(235,258)(nan,nan)
(222,295)(222,258)(250,258)(250,275)(nan,nan)
(275,315)(275,225)(286,225)(286,268)(nan,nan)
(280,300)(280,268)(292,268)(292,300)(nan,nan)
(658,175)(658,115)(935,115)(935,237)(nan,nan)
(495,232)(495,175)(821,175)(821,218)(nan,nan)
(407,258)(407,232)(583,232)(583,270)(nan,nan)
(342,265)(342,258)(470,258)(470,310)(nan,nan)
(296,298)(296,265)(390,265)(390,285)(nan,nan)
(340,310)(340,285)(420,285)(420,305)(nan,nan)
(553,292)(553,270)(613,270)(613,285)(nan,nan)
(503,310)(503,292)(585,292)(585,310)(nan,nan)
(747,258)(747,218)(895,218)(895,275)(nan,nan)
(672,272)(672,258)(823,258)(823,285)(nan,nan)
(640,295)(640,272)(735,272)(735,300)(nan,nan)
(795,305)(795,285)(860,285)(860,305)(nan,nan)
(882,305)(882,275)(915,275)(915,300)(nan,nan)
(927,290)(927,237)(945,237)(945,258)(nan,nan)
(945,258)(945,310)(nan,nan)
(209,310)(209,255)(214,255)(214,310)
};
\addplot[black,line width=7pt,dash pattern=on .9pt off 1pt] coordinates {(205,318)(950,318)};
\addplot[black,line width=2pt] coordinates {(205,327)(950,327)};
\end{axis}
\begin{axis}[pan={140}{2273}{510}{94},xmin=-.5,xmax=149.5,ymin=-.5,ymax=1.5,y dir=reverse,hide axis,colormap name=dereg,point meta min=-2.56,point meta max=2.56]
\hmplot{150}{}{1.9,1.9,.3,.0,-.3,-.6,.1,-.2,-.1,-.6,
-.7,-.6,-.2,-.7,1.9,1.9,1.9,-2.4,-2.4,-2.4,
-2.4,-2.4,-2.4,-2.4,-2.4,-2.4,-2.4,-2.4,-2.4,-2.4,
-2.4,-2.4,-2.4,-2.4,-2.4,-2.4,-2.4,-2.4,-2.4,-2.4,
-2.4,-2.4,-2.4,-2.4,-2.4,-2.4,-2.4,-2.4,-2.4,-2.4,
-2.4,-2.4,-2.4,-2.4,-2.4,-2.4,-2.4,-2.4,-2.4,-2.4,
-2.4,-2.4,-2.4,-2.4,-2.4,-2.4,-2.4,-2.4,-2.4,-2.4,
-2.4,-2.4,-2.4,-2.4,-2.4,-2.4,-2.4,-2.4,-2.4,-2.4,
-2.4,-2.4,-2.4,-2.4,.2,-.2,.3,-.3,-.5,-.6,
-.7,-.5,-.6,-.7,-.8,-.6,-.7,-.5,-.6,-.7,
-.6,-.7,-.5,-.6,-.7,-.6,-2.4,-2.4,-2.4,-.3,
-2.4,-2.4,-.3,-2.4,-2.4,.0,-.1,-.1,-.3,-.2,
-.4,-.5,-.6,-.3,-.7,-.5,-.6,-.8,-.6,-.7,
-.5,-.7,-.6,-.8,-.7,-.5,-.6,-.7,-.8,-2.4,
-2.4,-2.4,-2.4,-2.4,.9,1.2,.4,.5,.2,-2.2,
1.9,1.9,1.9,1.9,1.9,1.9,1.1,.9,1.0,1.1,
1.9,1.9,1.9,1.9,-.3,-.5,-.2,-2,-2,-2,
1.9,1.9,1.9,1.9,1.9,1.4,1.5,1.3,1.4,1.5,
1.3,1.4,1.5,1.9,1.9,.4,.5,.3,.6,.5,
.4,.6,.5,.4,.7,.5,.6,.4,.5,.6,
.7,.5,.4,1.9,.0,.1,-.1,.0,-.1,-.2,
-.2,-.3,-.2,-.4,-.5,-.3,-.5,-.6,-.5,-.4,
-.6,-.5,-.7,-.6,-.5,-.7,-.6,-.5,-.4,-.3,
.5,.2,.6,.3,.0,-.3,-.5,-.2,.1,.3,
.5,.6,.4,.7,.5,.3,.1,.0,-.1,-.2,
.0,.1,.3,.2,.1,.0,-.1,-.3,-.5,-.4,
-.3,-.5,-.6,-.4,-.5,-.6,-.5,-.6,-.7,-2.4,
-2.4,-2.4,-2.4,-.5,-.6,-.5,-.7,-.6,-.5,-.6,
-2.4,-.7,-.2,-2.4,-2.4,-2.4,-2.4,-2.4,-2.4,-2.4,
-2.4,-2.4,-2.4,-2.4,-2.4,-2.4,-2.4,-2.4,-2.4,-2.4}
\strp{-.5,0)(1.5}{0}\strp{13.5,0)(16.5}{0}\strp{16.5,0)(83.5}{0}\strp{105.5,0)(108.5}{0}\strp{109.5,0)(111.5}{0}\strp{112.5,0)(114.5}{0}\strp{138.5,0)(143.5}{0}\strp{148.5,0)(149.5}{0}
\strp{-.5,1)(5.5}{1}\strp{9.5,1)(13.5}{1}\strp{16.5,1)(24.5}{1}\strp{32.5,1)(34.5}{1}\strp{52.5,1)(53.5}{1}\strp{118.5,1)(122.5}{1}\strp{129.5,1)(130.5}{1}\strp{132.5,1)(149.5}{1}
\end{axis}
\tx{130}{2278}{east}{\fA}{Healthy}
\tx{130}{2306}{east}{\fA}{female}
\tx{130}{2338}{east}{\fA}{Healthy}
\tx{130}{2367}{east}{\fA}{male}
\tx{659}{2275}{west}{\fA}{92 to 102 years (46 samples)}
\tx{659}{2303}{west}{\fA}{vs. 71 to 80 (18)}
\tx{659}{2337}{west}{\fA}{92 to 102 years (14 samples)}
\tx{659}{2364}{west}{\fA}{vs. 71 to 80 (13)}
\tx{144}{2397}{west}{\bfseries\fontsize{14}{16}\selectfont}{Fold change (log2)}
\shade[left color=grn,right color=c1] (142,2419) rectangle (216.5,2459);
\shade[left color=c1,right color=c2] (216,2419) rectangle (263.5,2459);
\shade[left color=c2,right color=c3] (263,2419) rectangle (276.7,2459);
\shade[left color=c3,right color=white] (276.4,2419) rectangle (283.2,2459);
\shade[left color=white,right color=c4] (283,2419) rectangle (289.8,2459);
\shade[left color=c4,right color=c5] (289.6,2419) rectangle (303.5,2459);
\shade[left color=c5,right color=c6] (303,2419) rectangle (349.5,2459);
\shade[left color=c6,right color=gold] (349,2419) rectangle (425.5,2459);
\foreach \x/\lx/\l in {150.5/130/-2.56,216/216/-1.28,283/283/0,349/349/1.28,415/430/2.56}{
  \draw[white,line width=.6pt] (\x,2419)--(\x,2426) (\x,2452)--(\x,2459);
  \tx{\lx}{2474}{center}{\fA}{\l}}
\draw[black,line width=1pt] (488,2415) rectangle (495,2463);
\tx{514}{2438}{west}{\fA}{|log2(fc)| ≥ log2(1.5)}

% h ------------------------------------------------------------
\node[fill=mcol,rounded corners=3pt,minimum width=66.5pt,minimum height=19pt,inner sep=0pt,font=\bfseries\fA] at (1308,2192) {Male};
\node[fill=fcol,text=white,rounded corners=3pt,minimum width=67pt,minimum height=19pt,inner sep=0pt,font=\bfseries\fA] at (1543,2192) {Female};
\tx{1211.6}{2222}{west}{\fN}{92 to 102 y. (46 samples)}
\tx{1211.6}{2241}{west}{\fN}{vs. 71 to 80 (18)}
\tx{1448}{2222}{west}{\fN}{92 to 102 y. (14)}
\tx{1448}{2242}{west}{\fN}{vs. 71 to 80 (13)}
\begin{axis}[pan={1213}{2253}{192}{154},hhx,xmin=-2.8,xmax=2.64,xtick={-2,-1,0,1,2},xticklabels={-2,-1,0,1,2},ytick={0,.25,.5,.75},yticklabels={0.00,0.25,0.50,0.75}]
\addplot[black!18,dashed,line width=.8pt] coordinates {(-2.8,.5)(2.64,.5)};
\addplot[black!18,dashed,line width=.8pt] coordinates {(-.585,-.06)(-.585,.75)};
\addplot[black!18,dashed,line width=.8pt] coordinates {(.585,-.06)(.585,.75)};
\addplot[only marks,mark=*,mark size=2.6pt,mark options={fill=black!17,draw=black!17}] coordinates {
(-.22,.515)(-.29,.435)(-.92,.41)(-.76,.39)(.43,.43)(.71,.40)(1.25,.435)(1.5,.465)(1.1,.41)(.98,.39)(.65,.357)(.8,.37)(-1.25,.28)(-1.3,.257)(.65,.257)(1.09,.234)(-1.03,.19)(-1.45,.105)(-1.52,.045)(-1.27,.056)(1.09,.056)
(-.35,.38)(-.1,.39)(.05,.37)(-.45,.34)(-.2,.35)(.2,.33)(.35,.31)(-.7,.31)(-.6,.28)(-.4,.30)(-.15,.30)(.1,.29)(.3,.26)(-.75,.26)(-.5,.25)(-.25,.25)(0,.25)(.2,.22)(.6,.2)(.7,.23)(-.7,.21)(-.45,.2)(-.2,.2)(.05,.2)(.35,.18)(-.95,.16)(-.6,.16)(-.35,.15)(-.1,.15)(.15,.15)(.4,.14)(.65,.13)(-.85,.12)(-.55,.11)(-.3,.1)(-.05,.1)(.2,.1)(.45,.09)(.7,.1)(.85,.08)(-.65,.07)(-.4,.06)(-.15,.06)(.1,.06)(.35,.05)(.6,.05)(.9,.04)(-.5,.03)(-.25,.02)(0,.02)(.25,.02)(.5,.02)(.75,.03)(-.5,0)(-.3,0)(-.1,0)(.1,0)(.3,0)(-.9,.08)(-.1,.44)(0,.33)(-.55,.37)(.5,.24)(.55,.08)
(-.6,.33)(-.3,.34)(-.05,.34)(.15,.36)(.25,.38)(.55,.33)(.45,.36)(-.8,.36)(-.55,.22)(-.35,.23)(-.1,.22)(.1,.23)(.4,.22)(.5,.3)(-.85,.23)(-.3,.17)(-.15,.12)(0,.13)(.25,.13)(.5,.17)(.75,.16)(-.75,.14)(-.45,.13)(.3,.08)(.6,.11)(.8,.13)(-.75,.05)(-.6,.02)(-.05,.04)(.15,.03)(.45,.04)(.7,.06)(.8,.02)(-.4,.01)(.4,0)(.6,0)(-.2,.1)(.05,.16)(.2,.18)(-.55,.05)};
\addplot[only marks,mark=*,mark size=2.6pt,mark options={fill=grn,draw=grn}] coordinates {(-2.48,.895)(-2.54,.801)(-2.03,.761)(-1.54,.71)(-1.29,.748)(-2.01,.63)(-1.45,.654)(-.84,.661)(-.68,.569)(-1.35,.54)(-1.75,.509)};
\addplot[only marks,mark=*,mark size=2.6pt,mark options={fill=gold,draw=gold}] coordinates {(.85,.551)(1.22,.558)(1.46,.556)(2.36,.654)};
\addplot[black,line width=1pt] coordinates {(.41,.826)(1.46,.556)};
\node[font=\fN,inner sep=0pt] at (axis cs:.49,.88) {hsa-miR-488-3p};
\end{axis}
\begin{axis}[pan={1448}{2253}{191.5}{154},hhx,xmin=-1.91,xmax=2.65,xtick={-1,0,1,2},xticklabels={-1,0,1,2},ytick=\empty]
\addplot[black!18,dashed,line width=.8pt] coordinates {(-1.91,.5)(2.65,.5)};
\addplot[black!18,dashed,line width=.8pt] coordinates {(-.585,-.06)(-.585,.75)};
\addplot[black!18,dashed,line width=.8pt] coordinates {(.585,-.06)(.585,.75)};
\addplot[only marks,mark=*,mark size=2.6pt,mark options={fill=black!17,draw=black!17}] coordinates {
(-1.59,.364)(-1.36,.373)(-1.2,.40)(-1.04,.458)(.785,.469)(.86,.388)(.23,.324)(.57,.308)(1.06,.279)(2.41,.205)(1.22,.14)(1.47,.14)(1,.045)(1.17,.033)(1.4,.04)(.61,.007)(.15,.007)(-1.06,.038)(.51,.067)(.33,.123)
(-1,.42)(-.85,.47)(-.75,.44)(-.7,.40)(-.95,.36)(-1.05,.30)(-1.1,.25)(-.9,.31)(-.8,.28)(-.65,.35)(-.5,.39)(-.55,.33)(-.4,.36)(-.7,.24)(-.5,.26)(-.3,.3)(-.95,.2)(-.8,.2)(-.6,.2)(-.4,.22)(-.2,.27)(-.05,.3)(.05,.27)(.15,.25)(-1,.13)(-.8,.12)(-.6,.14)(-.4,.15)(-.2,.18)(0,.2)(.15,.16)(.3,.13)(-.75,.07)(-.55,.08)(-.35,.09)(-.15,.1)(.05,.12)(.2,.08)(.4,.08)(-.6,.03)(-.45,.04)(-.25,.04)(-.05,.05)(.1,.04)(.05,.02)(-.5,0)(-.3,.01)
(-.9,.45)(-.65,.42)(-.8,.38)(-.6,.3)(-.75,.32)(-.85,.25)(-1,.25)(-1.05,.18)(-.85,.16)(-.7,.17)(-.55,.17)(-.3,.25)(-.45,.29)(-.25,.2)(-.1,.22)(.08,.22)(.2,.2)(-.9,.1)(-.65,.1)(-.45,.11)(-.25,.13)(-.05,.15)(.1,.1)(.3,.06)(-.95,.07)(-.85,.03)(-.7,.02)(-.4,0)(-.15,.02)(0,.08)(.25,.03)(.45,.03)(.5,.12)(.4,.17)(.25,.12)(-.35,.05)(-.2,.07)(-.6,.22)(-.75,.22)(-.9,.37)};
\addplot[only marks,mark=*,mark size=2.6pt,mark options={fill=grn,draw=grn}] coordinates {(-1.58,.92)(-1.57,.766)(-1.65,.654)(-1.72,.614)(-.95,.632)(-1.38,.551)(-1.07,.5625)(-.79,.565)(-.68,.536)(-1.33,.502)(-.95,.547)(-.86,.525)(-1.13,.525)};
\addplot[black,line width=1pt] coordinates {(-.22,.788)(-1.18,.502)};
\node[font=\fN,inner sep=0pt] at (axis cs:.77,.86) {hsa-miR-132-3p};
\end{axis}
\node[rotate=90,font=\fontsize{14.5}{16}\selectfont,inner sep=0pt] at (1106.5,2335) {Effect size (Cohen's d)};
\tx{1390}{2468}{center}{\fA}{Fold change (log2)}

% sex symbols and panel letters -----------------------------------
\malesym{35}{59}\malesym{75}{432}\malesym{203.5}{876}\malesym{35}{1686}
\femsym{1634}{32}\femsym{1593}{405}\femsym{1444}{849}\femsym{1618}{1660}
\tx{40}{14}{center}{\fL}{a}
\tx{40}{350}{center}{\fL}{b}
\tx{40}{555}{center}{\fL}{c}
\tx{40}{815}{center}{\fL}{d}
\tx{40}{1320}{center}{\fL}{e}
\tx{35}{1637}{center}{\fL}{f}
\tx{41}{2197}{center}{\fL}{g}
\tx{1082}{2193}{center}{\fL}{h}
\end{tikzpicture}
\end{document}
